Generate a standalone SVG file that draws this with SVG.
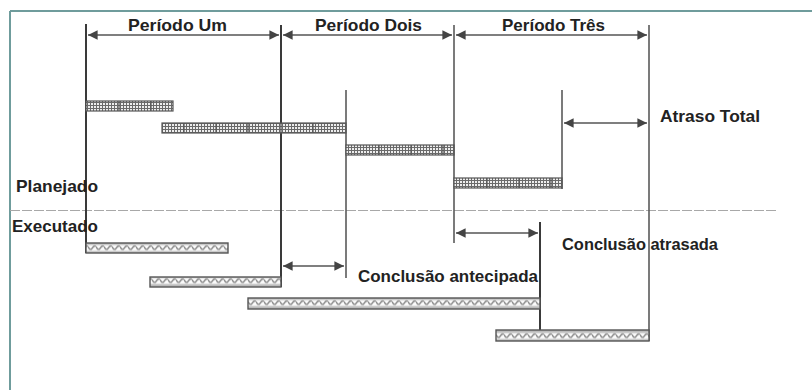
<svg xmlns="http://www.w3.org/2000/svg" width="812" height="390" viewBox="0 0 812 390">
<defs>
<style>
.t{font-family:"Liberation Sans",Arial,sans-serif;font-weight:bold;font-size:17px;fill:#222}
.v{stroke:#3a3a3a;stroke-width:2;fill:none}
.v2{stroke:#5a5a5a;stroke-width:1.6;fill:none}
.a{stroke:#555;stroke-width:1.6;fill:none;marker-start:url(#ah);marker-end:url(#ah)}
.pb{fill:url(#grid);stroke:#555;stroke-width:1.2}
.eb{fill:url(#wave);stroke:#555;stroke-width:1.4}
.sep{stroke:#555;stroke-width:1.2}
</style>
<marker id="ah" viewBox="0 0 10 10" refX="10" refY="5" markerWidth="6" markerHeight="6" orient="auto-start-reverse" markerUnits="strokeWidth">
<path d="M0,0 L10,5 L0,10 z" fill="#444"/>
</marker>
<pattern id="grid" width="3" height="3" patternUnits="userSpaceOnUse">
<rect width="3" height="3" fill="#eee"/>
<path d="M0,0.5 H3 M0.5,0 V3" stroke="#6a6a6a" stroke-width="1"/>
</pattern>
<pattern id="wave" width="8" height="11" patternUnits="userSpaceOnUse" y="0.5">
<rect width="8" height="11" fill="#fafafa"/>
<path d="M0,4 Q2,8.5 4,6 Q6,2.5 8,4" stroke="#888" stroke-width="1.4" fill="none"/>
<rect width="8" height="2.5" fill="#bbb"/>
<rect y="8.5" width="8" height="2.5" fill="#bbb"/>
</pattern>
</defs>
<rect width="812" height="390" fill="#fff"/>
<g id="frame">
<line x1="10" y1="11" x2="812" y2="11" stroke="#6f9c9c" stroke-width="2"/>
<line x1="10" y1="11" x2="10" y2="390" stroke="#6f9c9c" stroke-width="2"/>
<line x1="10" y1="210.5" x2="778" y2="210.5" stroke="#a8a8a8" stroke-width="1.2" stroke-dasharray="10,2"/>
</g>
<g id="gridlines">
<line class="v" x1="86" y1="24" x2="86" y2="253"/>
<line class="v" x1="281" y1="25" x2="281" y2="287"/>
<line class="v2" x1="454" y1="25" x2="454" y2="243"/>
<line class="v2" x1="649" y1="25" x2="649" y2="341"/>
<line class="v2" x1="346" y1="90" x2="346" y2="278"/>
<line class="v2" x1="562" y1="90" x2="562" y2="189"/>
<line class="v" x1="540" y1="222" x2="540" y2="331"/>
</g>
<g id="planned-bars">
<rect class="pb" x="86" y="101" width="87" height="10"/>
<rect class="pb" x="162" y="123" width="184" height="10"/>
<rect class="pb" x="346" y="145" width="108" height="10"/>
<rect class="pb" x="454" y="178" width="108" height="10"/>
<path class="sep" d="M119,101V111 M151,101V111 M184,123V133 M216,123V133 M248,123V133 M281,123V133 M313,123V133 M379,145V155 M411,145V155 M443,145V155 M487,178V188 M519,178V188 M551,178V188"/>
</g>
<g id="executed-bars">
<rect class="eb" x="86" y="243" width="142" height="10"/>
<rect class="eb" x="150" y="277" width="131" height="10"/>
<rect class="eb" x="248" y="298" width="292" height="11"/>
<rect class="eb" x="496" y="330" width="153" height="11"/>
</g>
<g id="connectors">
<line class="a" x1="88" y1="35" x2="279" y2="35"/>
<line class="a" x1="283" y1="35" x2="452" y2="35"/>
<line class="a" x1="456" y1="35" x2="647" y2="35"/>
<line class="a" x1="564" y1="123" x2="647" y2="123"/>
<line class="a" x1="456" y1="233" x2="538" y2="233"/>
<line class="a" x1="283" y1="266" x2="344" y2="266"/>
</g>
<g id="labels">
<text class="t" x="128" y="31" textLength="99" lengthAdjust="spacingAndGlyphs">Período Um</text>
<text class="t" x="315" y="31" textLength="107" lengthAdjust="spacingAndGlyphs">Período Dois</text>
<text class="t" x="502" y="31" textLength="103" lengthAdjust="spacingAndGlyphs">Período Três</text>
<text class="t" x="660" y="122" textLength="100" lengthAdjust="spacingAndGlyphs">Atraso Total</text>
<text class="t" x="16" y="192" textLength="82" lengthAdjust="spacingAndGlyphs">Planejado</text>
<text class="t" x="12" y="232" textLength="86" lengthAdjust="spacingAndGlyphs">Executado</text>
<text class="t" x="358" y="282" textLength="180" lengthAdjust="spacingAndGlyphs">Conclusão antecipada</text>
<text class="t" x="562" y="250" textLength="156" lengthAdjust="spacingAndGlyphs">Conclusão atrasada</text>
</g>
</svg>
